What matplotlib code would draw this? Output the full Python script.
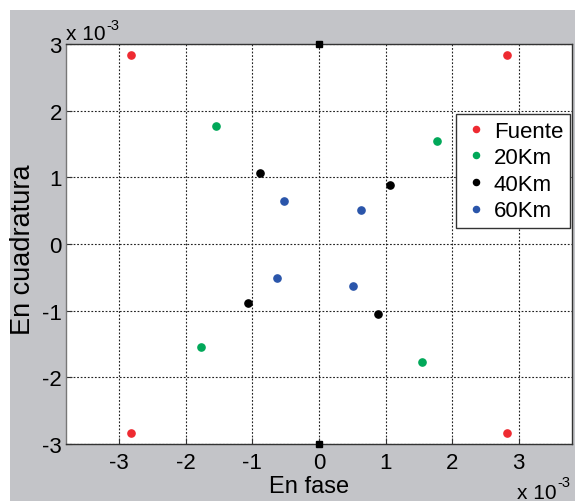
import matplotlib
matplotlib.use("Agg")
import matplotlib.pyplot as plt
from matplotlib.patches import Rectangle

plt.rcParams['font.family'] = ['Liberation Sans', 'DejaVu Sans']

# Data (x 1e-3)
fuente_x = [-2.83, 2.83, -2.83, 2.83]
fuente_y = [2.83, 2.83, -2.83, -2.83]
km20_x = [-1.55, 1.77, -1.77, 1.55]
km20_y = [1.77, 1.55, -1.55, -1.77]
km40_x = [-0.89, 1.06, -1.07, 0.89]
km40_y = [1.06, 0.89, -0.89, -1.05]
km60_x = [-0.52, 0.63, -0.63, 0.51]
km60_y = [0.64, 0.51, -0.51, -0.63]
extra_x = [0.0, 0.0]
extra_y = [3.0, -3.0]
series_labels = ['Fuente', '20Km', '40Km', '60Km']
xticks = [-3, -2, -1, 0, 1, 2, 3]
yticks = [-3, -2, -1, 0, 1, 2, 3]

W, H = 575, 502
fig = plt.figure(figsize=(W / 100, H / 100), dpi=100, facecolor='white')
fig.patches.append(Rectangle((10 / W, 0), 1 - 10 / W, 1 - 11 / H,
                             transform=fig.transFigure, facecolor='#c3c4c8',
                             edgecolor='none', zorder=-10))

ax = fig.add_axes([66 / W, (H - 445) / H, (572 - 66) / W, 400 / H])
ax.set_facecolor('white')

ms = 5.2
ax.plot(fuente_x, fuente_y, 'o', color='#ee2a31', ms=ms, mec='#ee2a31', label=series_labels[0])
ax.plot(km20_x, km20_y, 'o', color='#00a859', ms=ms, mec='#00a859', label=series_labels[1])
ax.plot(km40_x, km40_y, 'o', color='black', ms=ms, mec='black', label=series_labels[2])
ax.plot(km60_x, km60_y, 'o', color='#2a55aa', ms=ms, mec='#2a55aa', label=series_labels[3])
ax.plot(extra_x, extra_y, 's', color='black', ms=4, mec='black', clip_on=False, zorder=5)

ax.set_xlim(-3.8, 3.8)
ax.set_ylim(-3, 3)
ax.set_xticks(xticks)
ax.set_yticks(yticks)
ax.set_xticklabels([str(t) for t in xticks])
ax.set_yticklabels([str(t) for t in yticks])
ax.tick_params(direction='in', length=4, width=0.8, labelsize=16, color='#333333')
ax.tick_params(axis='x', pad=6)
ax.tick_params(axis='y', pad=3)
ax.grid(True, color='#222222', linestyle=(0, (1.6, 1.6)), linewidth=0.8)
for s in ax.spines.values():
    s.set_color('#333333')
    s.set_linewidth(1.0)
ax.spines['left'].set_color('#777777')

leg = ax.legend(loc='upper right', bbox_to_anchor=(0.996, (445 - 115) / 400), fontsize=16,
                frameon=True, fancybox=False, edgecolor='#333333', framealpha=1,
                handlelength=1.2, handletextpad=0.2, borderpad=0.3, labelspacing=0.25,
                markerscale=0.85, borderaxespad=0.0)
leg.get_frame().set_linewidth(1.0)

fig.text(23 / W, 0.5 * ((H - 445) / H + (H - 45) / H) - 5 / H, 'En cuadratura', rotation=90,
         ha='center', va='center', fontsize=19.5)
fig.text(309 / W, 1 - 487 / H, 'En fase', ha='center', va='center', fontsize=17)

# exponent labels
fig.text(66 / W, 1 - 40 / H, 'x 10', ha='left', va='baseline', fontsize=15)
fig.text(106 / W, 1 - 30 / H, '-3', ha='left', va='baseline', fontsize=10.5)
fig.text(517 / W, 1 - 499 / H, 'x 10', ha='left', va='baseline', fontsize=15)
fig.text(557 / W, 1 - 487 / H, '-3', ha='left', va='baseline', fontsize=10.5)

fig.savefig('out.png', dpi=100, facecolor='white')
